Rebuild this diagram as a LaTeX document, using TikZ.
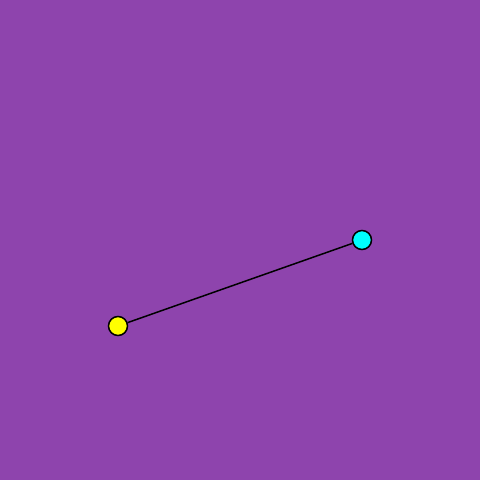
\documentclass[tikz,border=0pt]{standalone}
\definecolor{bgpurple}{RGB}{142,68,173}
\definecolor{dotyellow}{RGB}{255,255,0}
\definecolor{dotcyan}{RGB}{0,255,255}
\begin{document}
\begin{tikzpicture}[x=1pt,y=-1pt,
  dot/.style={circle,draw=black,line width=1.5pt,minimum size=19pt,inner sep=0pt}]
\fill[bgpurple] (0,0) rectangle (480,480);
\useasboundingbox (0,0) rectangle (480,480);
\node[dot,fill=dotyellow] (a) at (118,326) {};
\node[dot,fill=dotcyan] (b) at (362,240) {};
\draw[line width=1.5pt,black] (a) -- (b);
\end{tikzpicture}
\end{document}
